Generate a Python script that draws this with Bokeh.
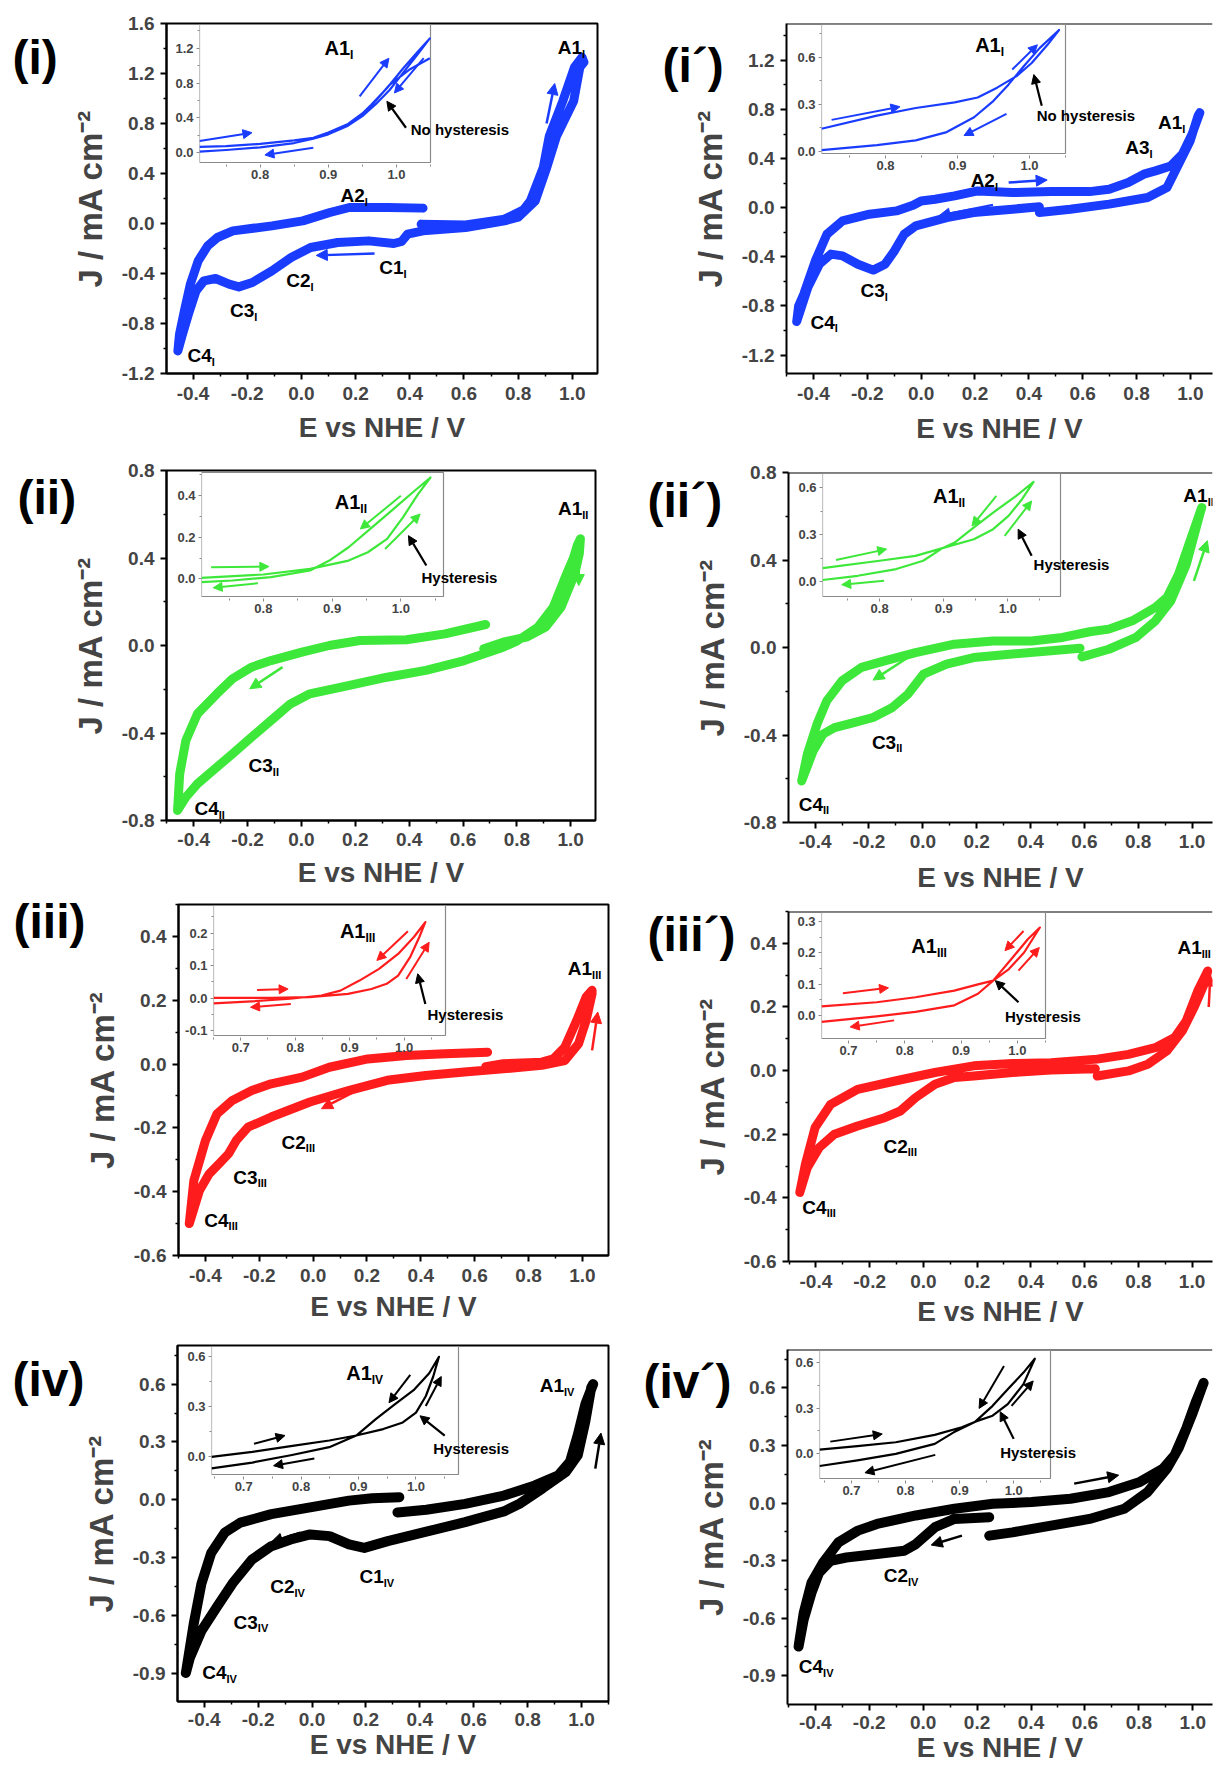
from bokeh.plotting import figure
from bokeh.models import (Range1d, FixedTicker, PrintfTickFormatter, Arrow,
                          NormalHead, Span, ColumnDataSource)
from bokeh.core.properties import value
from bokeh.embed import file_html
from bokeh.resources import INLINE

NAN = float("nan")

# ------------------------------------------------------------------ data
# main cyclic voltammograms: E (V vs NHE), J (mA cm-2)
cv_i_E = [0.442, 0.606, 0.75, 0.82, 0.845, 0.893, 0.915, 0.965, 1.008, 1.036, 1.043, 1.028, 1.005, 0.942, 0.906,
          0.863, 0.8, 0.75, 0.606, 0.449, 0.392, 0.37, 0.341, 0.248, 0.134, 0.034, -0.038, -0.109, -0.181, -0.231,
          -0.267, -0.317, -0.36, -0.389, -0.417, -0.439, -0.456, -0.45, -0.432, -0.41, -0.381, -0.346, -0.31,
          -0.253, -0.109, 0.005, 0.105, 0.177, 0.32, 0.449]
cv_i_J = [-0.005, -0.011, 0.035, 0.11, 0.18, 0.45, 0.7, 0.98, 1.25, 1.33, 1.29, 1.25, 0.98, 0.7, 0.45, 0.18, 0.05,
          0.021, -0.032, -0.059, -0.085, -0.144, -0.16, -0.139, -0.152, -0.192, -0.272, -0.379, -0.472, -0.507,
          -0.485, -0.44, -0.459, -0.539, -0.725, -0.885, -1.019, -0.885, -0.699, -0.485, -0.299, -0.179, -0.112,
          -0.059, -0.019, 0.021, 0.088, 0.128, 0.128, 0.123]

cv_ip_E = [0.439, 0.339, 0.195, 0.095, -0.02, -0.063, -0.099, -0.134, -0.178, -0.235, -0.292, -0.335, -0.378, -0.421,
           -0.462, -0.455, -0.436, -0.393, -0.35, -0.292, -0.192, -0.092, -0.03, 0.0, 0.052, 0.124, 0.21, 0.339,
           0.482, 0.626, 0.698, 0.769, 0.827, 0.87, 0.927, 0.97, 1.006, 1.035, 1.028, 0.999, 0.956, 0.913, 0.841,
           0.698, 0.554, 0.439]
cv_ip_J = [0.007, -0.012, -0.039, -0.08, -0.148, -0.216, -0.351, -0.46, -0.508, -0.46, -0.392, -0.378, -0.46, -0.65,
           -0.926, -0.8, -0.704, -0.433, -0.216, -0.107, -0.053, -0.026, 0.02, 0.055, 0.069, 0.096, 0.137, 0.123,
           0.131, 0.131, 0.15, 0.205, 0.273, 0.3, 0.34, 0.435, 0.598, 0.774, 0.747, 0.544, 0.354, 0.164, 0.083,
           0.029, -0.012, -0.039]

cv_ii_E = [0.677, 0.749, 0.835, 0.907, 0.964, 1.015, 1.032, 1.036, 1.025, 1.01, 0.985, 0.935, 0.878, 0.8, 0.749,
           0.605, 0.462, 0.318, 0.174, 0.031, -0.041, -0.113, -0.185, -0.256, -0.328, -0.386, -0.429, -0.46, -0.452,
           -0.429, -0.386, -0.314, -0.256, -0.185, -0.113, 0.002, 0.103, 0.217, 0.39, 0.533, 0.684]
cv_ii_J = [-0.015, 0.015, 0.038, 0.084, 0.175, 0.328, 0.42, 0.488, 0.46, 0.4, 0.328, 0.175, 0.084, 0.02, -0.008,
           -0.069, -0.114, -0.145, -0.183, -0.221, -0.267, -0.343, -0.419, -0.495, -0.571, -0.632, -0.693, -0.754,
           -0.587, -0.434, -0.312, -0.221, -0.152, -0.099, -0.069, -0.03, 0.0, 0.023, 0.026, 0.053, 0.096]

cv_iip_E = [0.584, 0.476, 0.332, 0.189, 0.088, 0.002, -0.055, -0.113, -0.185, -0.256, -0.328, -0.371, -0.407, -0.45,
            -0.429, -0.393, -0.357, -0.3, -0.228, -0.142, -0.027, 0.117, 0.261, 0.404, 0.519, 0.62, 0.691, 0.778,
            0.864, 0.907, 0.95, 0.993, 1.036, 1.029, 0.979, 0.921, 0.864, 0.792, 0.691, 0.591]
cv_iip_J = [-0.003, -0.015, -0.03, -0.046, -0.076, -0.122, -0.213, -0.274, -0.32, -0.343, -0.366, -0.396, -0.472,
            -0.61, -0.488, -0.35, -0.244, -0.152, -0.091, -0.061, -0.023, 0.015, 0.03, 0.03, 0.046, 0.072, 0.084,
            0.122, 0.183, 0.229, 0.335, 0.488, 0.64, 0.61, 0.381, 0.213, 0.122, 0.046, -0.008, -0.043]

cv_iii_E = [0.641, 0.706, 0.849, 0.892, 0.935, 0.979, 1.014, 1.036, 1.036, 1.014, 0.986, 0.935, 0.849, 0.706, 0.562,
            0.418, 0.275, 0.131, -0.012, -0.156, -0.242, -0.285, -0.314, -0.343, -0.386, -0.422, -0.46, -0.443, -0.4,
            -0.357, -0.3, -0.228, -0.156, -0.041, 0.06, 0.203, 0.347, 0.49, 0.648]
cv_iii_J = [-0.008, 0.001, 0.006, 0.016, 0.053, 0.137, 0.21, 0.231, 0.22, 0.137, 0.064, 0.011, -0.004, -0.015, -0.025,
            -0.036, -0.051, -0.083, -0.119, -0.166, -0.198, -0.239, -0.281, -0.307, -0.344, -0.396, -0.5, -0.365,
            -0.24, -0.156, -0.114, -0.083, -0.062, -0.041, -0.01, 0.016, 0.027, 0.032, 0.037]

cv_iiip_E = [0.647, 0.763, 0.835, 0.906, 0.964, 1.007, 1.05, 1.058, 1.021, 0.978, 0.935, 0.863, 0.763, 0.647, 0.475,
             0.331, 0.187, 0.043, -0.101, -0.245, -0.345, -0.403, -0.439, -0.46, -0.432, -0.388, -0.331, -0.245,
             -0.144, -0.086, -0.029, 0.043, 0.115, 0.187, 0.331, 0.475, 0.64]
cv_iiip_J = [-0.017, -0.001, 0.02, 0.062, 0.125, 0.198, 0.282, 0.313, 0.25, 0.156, 0.104, 0.072, 0.051, 0.036, 0.025,
             0.022, 0.015, -0.006, -0.032, -0.059, -0.106, -0.179, -0.294, -0.383, -0.305, -0.242, -0.2, -0.174,
             -0.148, -0.127, -0.085, -0.043, -0.022, -0.017, -0.006, 0.002, 0.006]

cv_iv_E = [0.317, 0.424, 0.568, 0.712, 0.827, 0.914, 0.957, 0.986, 1.014, 1.043, 1.036, 1.014, 0.986, 0.942, 0.856,
           0.77, 0.712, 0.568, 0.424, 0.281, 0.194, 0.137, 0.065, -0.007, -0.079, -0.151, -0.223, -0.295, -0.353,
           -0.41, -0.453, -0.468, -0.439, -0.41, -0.374, -0.324, -0.266, -0.151, -0.007, 0.137, 0.223, 0.324]
cv_iv_J = [-0.065, -0.051, -0.021, 0.022, 0.075, 0.127, 0.197, 0.337, 0.495, 0.6, 0.583, 0.407, 0.232, 0.145, 0.06,
           -0.02, -0.06, -0.115, -0.165, -0.214, -0.249, -0.231, -0.188, -0.179, -0.205, -0.24, -0.31, -0.433,
           -0.555, -0.678, -0.818, -0.897, -0.643, -0.433, -0.275, -0.17, -0.118, -0.074, -0.039, -0.004, 0.008,
           0.014]

cv_ivp_E = [0.245, 0.116, 0.044, -0.027, -0.07, -0.171, -0.285, -0.343, -0.386, -0.414, -0.443, -0.462, -0.443,
            -0.414, -0.371, -0.314, -0.242, -0.171, -0.027, 0.116, 0.259, 0.402, 0.546, 0.689, 0.804, 0.89, 0.933,
            0.976, 1.012, 1.04, 1.033, 0.997, 0.947, 0.904, 0.832, 0.746, 0.617, 0.474, 0.331, 0.245]
cv_ivp_J = [-0.074, -0.083, -0.126, -0.214, -0.249, -0.266, -0.284, -0.301, -0.363, -0.468, -0.608, -0.748, -0.573,
            -0.415, -0.31, -0.205, -0.144, -0.109, -0.065, -0.03, -0.004, 0.005, 0.022, 0.057, 0.11, 0.18, 0.25,
            0.39, 0.53, 0.626, 0.6, 0.46, 0.285, 0.18, 0.057, -0.03, -0.083, -0.118, -0.153, -0.17]

# insets (A1 region)
ins_i_E = [0.711, 0.75, 0.8, 0.85, 0.878, 0.9, 0.929, 0.95, 0.963, 0.986, 1.01, 1.03, 1.049, 1.03, 1.01, 0.99, 0.97,
           0.95, 0.929, 0.9, 0.878, 0.85, 0.8, 0.75, 0.711, NAN, 0.95, 0.97, 0.99, 1.02, 1.049]
ins_i_J = [0.065, 0.075, 0.1, 0.14, 0.17, 0.23, 0.33, 0.45, 0.55, 0.74, 0.97, 1.15, 1.314, 1.12, 0.92, 0.72, 0.56,
           0.42, 0.31, 0.21, 0.16, 0.11, 0.06, 0.03, 0.011, NAN, 0.44, 0.6, 0.78, 0.96, 1.086]
ins_ip_E = [0.711, 0.788, 0.842, 0.896, 0.928, 0.955, 0.982, 1.003, 1.025, 1.041, 1.014, 0.992, 0.971, 0.95, 0.923,
            0.885, 0.842, 0.788, 0.711]
ins_ip_J = [0.143, 0.227, 0.276, 0.312, 0.343, 0.406, 0.48, 0.564, 0.68, 0.775, 0.659, 0.543, 0.427, 0.322, 0.217,
            0.122, 0.069, 0.038, 0.006]
ins_ii_E = [0.71, 0.8, 0.868, 0.924, 0.952, 0.98, 1.003, 1.025, 1.043, 1.02, 0.992, 0.958, 0.924, 0.896, 0.868, 0.811,
            0.755, 0.71]
ins_ii_J = [0.005, 0.021, 0.048, 0.088, 0.128, 0.192, 0.296, 0.408, 0.488, 0.424, 0.344, 0.248, 0.152, 0.088, 0.04,
            0.008, -0.008, -0.016]
ins_iip_E = [0.711, 0.8, 0.856, 0.898, 0.947, 0.977, 1.001, 1.022, 1.04, 1.013, 0.977, 0.947, 0.917, 0.898, 0.868,
             0.826, 0.766, 0.711]
ins_iip_J = [0.087, 0.134, 0.165, 0.214, 0.271, 0.335, 0.42, 0.526, 0.636, 0.547, 0.441, 0.346, 0.25, 0.214, 0.134,
             0.081, 0.038, 0.011]
ins_iii_E = [0.65, 0.755, 0.826, 0.897, 0.94, 0.968, 0.989, 1.011, 1.028, 1.039, 1.018, 0.989, 0.954, 0.918, 0.883,
             0.848, 0.791, 0.72, 0.65]
ins_iii_J = [0.001, 0.001, 0.003, 0.013, 0.028, 0.044, 0.069, 0.126, 0.188, 0.234, 0.188, 0.136, 0.09, 0.054, 0.023,
             0.008, -0.002, -0.01, -0.016]
ins_iiip_E = [0.652, 0.75, 0.819, 0.888, 0.93, 0.957, 0.985, 1.012, 1.04, 1.019, 0.992, 0.957, 0.93, 0.888, 0.819,
              0.75, 0.652]
ins_iiip_J = [0.029, 0.042, 0.058, 0.079, 0.099, 0.111, 0.148, 0.201, 0.281, 0.244, 0.186, 0.111, 0.069, 0.032,
              0.011, -0.003, -0.021]
ins_iv_E = [0.644, 0.715, 0.782, 0.849, 0.896, 0.943, 0.977, 1.0, 1.017, 1.03, 1.04, 1.023, 0.997, 0.963, 0.93, 0.896,
            0.849, 0.782, 0.715, 0.644]
ins_iv_J = [-0.004, 0.026, 0.061, 0.095, 0.125, 0.164, 0.204, 0.263, 0.362, 0.481, 0.6, 0.501, 0.402, 0.313, 0.224,
            0.125, 0.055, 0.006, -0.038, -0.073]
ins_ivp_E = [0.641, 0.711, 0.782, 0.854, 0.904, 0.929, 0.961, 0.989, 1.018, 1.039, 1.018, 0.989, 0.961, 0.929, 0.889,
             0.854, 0.782, 0.711, 0.641]
ins_ivp_J = [0.028, 0.05, 0.076, 0.124, 0.174, 0.211, 0.25, 0.326, 0.457, 0.624, 0.533, 0.424, 0.315, 0.211, 0.141,
             0.065, 0.0, -0.043, -0.08]

# tick labels
X_TICKS = [-0.4, -0.2, 0.0, 0.2, 0.4, 0.6, 0.8, 1.0]
X_MINOR = [-0.5, -0.3, -0.1, 0.1, 0.3, 0.5, 0.7, 0.9, 1.1]
Y_TICKS_I = [-1.2, -0.8, -0.4, 0.0, 0.4, 0.8, 1.2, 1.6]
Y_TICKS_IP = [-1.2, -0.8, -0.4, 0.0, 0.4, 0.8, 1.2]
Y_MINOR_I = [-1.0, -0.6, -0.2, 0.2, 0.6, 1.0, 1.4]
Y_TICKS_II = [-0.8, -0.4, 0.0, 0.4, 0.8]
Y_MINOR_II = [-0.6, -0.2, 0.2, 0.6]
Y_TICKS_III = [-0.6, -0.4, -0.2, 0.0, 0.2, 0.4]
Y_MINOR_III = [-0.5, -0.3, -0.1, 0.1, 0.3, 0.5]
Y_TICKS_IV = [-0.9, -0.6, -0.3, 0.0, 0.3, 0.6]
Y_MINOR_IV = [-0.75, -0.45, -0.15, 0.15, 0.45, 0.75]

INS_X_TICKS_A = [0.8, 0.9, 1.0]
INS_X_TICKS_B = [0.7, 0.8, 0.9, 1.0]
INS_X_MINOR = [0.65, 0.75, 0.85, 0.95, 1.05]
INS_Y_TICKS_I = [0.0, 0.4, 0.8, 1.2]
INS_Y_MINOR_I = [0.2, 0.6, 1.0, 1.4]
INS_Y_TICKS_03 = [0.0, 0.3, 0.6]
INS_Y_MINOR_03 = [0.15, 0.45, 0.75]
INS_Y_TICKS_II = [0.0, 0.2, 0.4]
INS_Y_MINOR_II = [0.1, 0.3, 0.5]
INS_Y_TICKS_III = [-0.1, 0.0, 0.1, 0.2]
INS_Y_MINOR_III = [-0.05, 0.05, 0.15, 0.25]
INS_Y_TICKS_IIIP = [0.0, 0.1, 0.2, 0.3]
INS_Y_MINOR_IIIP = [0.05, 0.15, 0.25]

# ------------------------------------------------------------------ styles / layout
BLUE = "#1a3cff"
GREEN = "#3ee83a"
RED = "#ff1c1c"
BLACK = "#000000"
FONT = "Liberation Sans"
W_PAGE, H_PAGE = 1213, 1765
GREY = "#8a8a8a"

PANELS = [
    dict(tag="(i)", col=0, color=BLUE, lw=9, E=cv_i_E, J=cv_i_J, frame=(166, 23, 597, 373), xr=(-0.498, 1.093),
         yr=(-1.2, 1.6), yt=Y_TICKS_I, ym=Y_MINOR_I, tag_xy=(12, 57), xls=7, xgap=9,
         labels=[("A1", "I", 1.036, 1.408), ("A2", "I", 0.234, 0.221), ("C1", "I", 0.377, -0.352),
                 ("C2", "I", 0.034, -0.459), ("C3", "I", -0.174, -0.699), ("C4", "I", -0.331, -1.059)],
         arrows=[(0.905, 0.80, 0.935, 1.12), (0.27, -0.24, 0.055, -0.255)],
         inset=dict(E=ins_i_E, J=ins_i_J, frame=(199, 24, 430, 162), xr=(0.711, 1.05), yr=(-0.114, 1.474),
                    xt=INS_X_TICKS_A, yt=INS_Y_TICKS_I, ym=INS_Y_MINOR_I, rpad=84,
                    labels=[("A1", "I", 0.932, 1.2)],
                    arrows=[(0.711, 0.133, 0.788, 0.229), (0.878, 0.057, 0.807, -0.027),
                            (0.946, 0.648, 0.989, 1.086), (1.04, 1.086, 0.997, 0.686)],
                    pointer=(1.014, 0.286, 0.986, 0.59), note="No hysteresis", note_xy=(1.021, 0.267))),
    dict(tag="(i\u00b4)", col=1, color=BLUE, lw=9, E=cv_ip_E, J=cv_ip_J, frame=(786, 23, 1212, 373),
         xr=(-0.5, 1.082), yr=(-1.35, 1.5), yt=Y_TICKS_IP, ym=Y_MINOR_I, tag_xy=(662, 65), xls=7, xgap=10,
         labels=[("A1", "I", 0.97, 0.693), ("A2", "I", 0.274, 0.218), ("A3", "I", 0.848, 0.49),
                 ("C3", "I", -0.135, -0.677), ("C4", "I", -0.321, -0.934)],
         arrows=[(0.325, 0.205, 0.468, 0.226), (0.267, 0.023, 0.066, -0.066)],
         inset=dict(E=ins_ip_E, J=ins_ip_J, frame=(821, 24, 1065, 153), xr=(0.711, 1.05), yr=(-0.015, 0.81),
                    xt=INS_X_TICKS_A, yt=INS_Y_TICKS_03, ym=INS_Y_MINOR_03, rpad=74,
                    labels=[("A1", "I", 0.96, 0.68)],
                    arrows=[(0.725, 0.2, 0.82, 0.284), (0.976, 0.522, 1.011, 0.68), (0.968, 0.238, 0.909, 0.1)],
                    pointer=(1.017, 0.29, 1.006, 0.49), note="No hysteresis", note_xy=(1.01, 0.227))),
    dict(tag="(ii)", col=0, color=GREEN, lw=9, E=cv_ii_E, J=cv_ii_J, frame=(166, 470, 595, 820),
         xr=(-0.501, 1.092), yr=(-0.8, 0.8), yt=Y_TICKS_II, ym=Y_MINOR_II, tag_xy=(17, 497), xls=6, xgap=8,
         labels=[("A1", "II", 1.043, 0.625), ("C3", "II", -0.106, -0.549), ("C4", "II", -0.307, -0.747)],
         arrows=[(-0.07, -0.099, -0.192, -0.198), (1.03, 0.343, 1.03, 0.274)],
         inset=dict(E=ins_ii_E, J=ins_ii_J, frame=(201, 472, 443, 596), xr=(0.71, 1.062), yr=(-0.085, 0.512),
                    xt=INS_X_TICKS_A, yt=INS_Y_TICKS_II, ym=INS_Y_MINOR_II, rpad=58,
                    labels=[("A1", "II", 0.941, 0.368)],
                    arrows=[(0.724, 0.056, 0.808, 0.059), (0.792, -0.021, 0.727, -0.043),
                            (1.0, 0.4, 0.941, 0.24), (0.977, 0.144, 1.028, 0.312)],
                    pointer=(1.037, 0.064, 1.011, 0.208), note="Hysteresis", note_xy=(1.03, 0.008))),
    dict(tag="(ii\u00b4)", col=1, color=GREEN, lw=9, E=cv_iip_E, J=cv_iip_J, frame=(788, 472, 1212, 822),
         xr=(-0.499, 1.076), yr=(-0.8, 0.8), yt=Y_TICKS_II, ym=Y_MINOR_II, tag_xy=(647, 500), xls=6, xgap=11,
         labels=[("A1", "II", 1.058, 0.693), ("C3", "II", -0.099, -0.434), ("C4", "II", -0.371, -0.716)],
         arrows=[(-0.055, -0.046, -0.185, -0.149), (1.007, 0.305, 1.057, 0.488)],
         inset=dict(E=ins_iip_E, J=ins_iip_J, frame=(822, 473, 1060, 596), xr=(0.711, 1.082), yr=(-0.094, 0.69),
                    xt=INS_X_TICKS_A, yt=INS_Y_TICKS_03, ym=INS_Y_MINOR_03, rpad=52,
                    labels=[("A1", "II", 0.923, 0.547)],
                    arrows=[(0.732, 0.138, 0.811, 0.208), (0.807, 0.006, 0.741, -0.019),
                            (0.982, 0.547, 0.944, 0.356), (0.995, 0.293, 1.037, 0.515)],
                    pointer=(1.037, 0.165, 1.016, 0.335), note="Hysteresis", note_xy=(1.04, 0.112))),
    dict(tag="(iii)", col=0, color=RED, lw=9, E=cv_iii_E, J=cv_iii_J, frame=(178, 904, 608, 1255),
         xr=(-0.5, 1.097), yr=(-0.6, 0.5), yt=Y_TICKS_III, ym=Y_MINOR_III, tag_xy=(13, 921), xls=7, xgap=6,
         labels=[("A1", "III", 1.036, 0.299), ("C2", "III", -0.027, -0.245), ("C3", "III", -0.206, -0.354),
                 ("C4", "III", -0.314, -0.49)],
         arrows=[(0.174, -0.078, 0.031, -0.14), (1.036, 0.043, 1.057, 0.163)],
         inset=dict(E=ins_iii_E, J=ins_iii_J, frame=(213, 905, 445, 1035), xr=(0.65, 1.076), yr=(-0.115, 0.285),
                    xt=INS_X_TICKS_B, yt=INS_Y_TICKS_III, ym=INS_Y_MINOR_III, rpad=62,
                    labels=[("A1", "III", 0.929, 0.208)],
                    arrows=[(0.73, 0.025, 0.787, 0.028), (0.792, -0.018, 0.718, -0.028),
                            (1.007, 0.206, 0.95, 0.116), (1.004, 0.059, 1.046, 0.172)],
                    pointer=(1.039, -0.018, 1.025, 0.075), note="Hysteresis", note_xy=(1.043, -0.049))),
    dict(tag="(iii\u00b4)", col=1, color=RED, lw=9, E=cv_iiip_E, J=cv_iiip_J, frame=(788, 911, 1212, 1261),
         xr=(-0.502, 1.076), yr=(-0.6, 0.5), yt=Y_TICKS_III, ym=Y_MINOR_III, tag_xy=(647, 934), xls=7, xgap=5,
         labels=[("A1", "III", 1.036, 0.386), ("C2", "III", -0.058, -0.237), ("C4", "III", -0.36, -0.43)],
         arrows=[(1.062, 0.2, 1.068, 0.3)],
         inset=dict(E=ins_iiip_E, J=ins_iiip_J, frame=(821, 912, 1045, 1038), xr=(0.652, 1.05),
                    yr=(-0.074, 0.329), xt=INS_X_TICKS_B, yt=INS_Y_TICKS_IIIP, ym=INS_Y_MINOR_IIIP, rpad=38,
                    labels=[("A1", "III", 0.857, 0.223)],
                    arrows=[(0.69, 0.071, 0.771, 0.088), (0.781, -0.016, 0.703, -0.037),
                            (1.011, 0.27, 0.978, 0.207), (1.002, 0.143, 1.039, 0.217)],
                    pointer=(1.002, 0.042, 0.961, 0.111), note="Hysteresis", note_xy=(0.978, -0.003))),
    dict(tag="(iv)", col=0, color=BLACK, lw=10, E=cv_iv_E, J=cv_iv_J, frame=(177, 1345, 608, 1701),
         xr=(-0.499, 1.1), yr=(-1.045, 0.8), yt=Y_TICKS_IV, ym=Y_MINOR_IV, tag_xy=(12, 1379), xls=5, xgap=0,
         labels=[("A1", "IV", 0.935, 0.591), ("C1", "IV", 0.266, -0.398), ("C2", "IV", -0.065, -0.45),
                 ("C3", "IV", -0.201, -0.634), ("C4", "IV", -0.317, -0.897)],
         arrows=[(-0.043, -0.17, -0.151, -0.219), (1.051, 0.162, 1.072, 0.346)],
         inset=dict(E=ins_iv_E, J=ins_iv_J, frame=(211, 1346, 458, 1474), xr=(0.644, 1.074), yr=(-0.11, 0.662),
                    xt=INS_X_TICKS_B, yt=INS_Y_TICKS_03, ym=INS_Y_MINOR_03, rpad=54,
                    labels=[("A1", "IV", 0.923, 0.5)],
                    arrows=[(0.718, 0.075, 0.772, 0.125), (0.823, -0.014, 0.752, -0.057),
                            (0.99, 0.491, 0.953, 0.323), (1.017, 0.303, 1.044, 0.481)],
                    pointer=(1.05, 0.125, 1.007, 0.244), note="Hysteresis", note_xy=(1.03, 0.046))),
    dict(tag="(iv\u00b4)", col=1, color=BLACK, lw=10, E=cv_ivp_E, J=cv_ivp_J, frame=(787, 1349, 1212, 1705),
         xr=(-0.503, 1.073), yr=(-1.05, 0.8), yt=Y_TICKS_IV, ym=Y_MINOR_IV, tag_xy=(643, 1381), xls=5, xgap=0,
         labels=[("C2", "IV", -0.056, -0.38), ("C4", "IV", -0.371, -0.853)],
         arrows=[(0.56, 0.101, 0.725, 0.145), (0.144, -0.17, 0.03, -0.219)],
         inset=dict(E=ins_ivp_E, J=ins_ivp_J, frame=(819, 1350, 1050, 1478), xr=(0.641, 1.068), yr=(-0.162, 0.678),
                    xt=INS_X_TICKS_B, yt=INS_Y_TICKS_03, ym=INS_Y_MINOR_03, rpad=32,
                    labels=[],
                    arrows=[(0.661, 0.08, 0.757, 0.13), (0.855, -0.007, 0.725, -0.124),
                            (0.982, 0.576, 0.936, 0.298), (0.996, 0.315, 1.036, 0.478)],
                    pointer=(1.0, 0.098, 0.975, 0.276), note="Hysteresis", note_xy=(0.975, 0.011))),
]


def abs_style(left, top, z=None):
    s = {"position": "absolute", "left": f"{left}px", "top": f"{top}px"}
    if z is not None:
        s["z-index"] = str(z)
    return s


def add_labels(p, labels, big, small):
    if not labels:
        return
    src = ColumnDataSource(dict(x=[l[2] for l in labels], y=[l[3] for l in labels],
                                main=[l[0] for l in labels], sub=[l[1] for l in labels]))
    p.text(x="x", y="y", text="main", source=src, text_font=value(FONT), text_font_style="bold",
           text_font_size=big, text_align="right", text_baseline="alphabetic", text_color="black")
    p.text(x="x", y="y", text="sub", source=src, text_font=value(FONT), text_font_style="bold",
           text_font_size=small, text_align="left", text_baseline="top", text_color="black")


def add_arrow(p, a, color, width, size):
    p.add_layout(Arrow(x_start=a[0], y_start=a[1], x_end=a[2], y_end=a[3], line_color=color, line_width=width,
                       end=NormalHead(size=size, fill_color=color, line_color=color, line_width=1)))


def make_main(sp):
    L, T, R, B = sp["frame"]
    fx = 0 if sp["col"] == 0 else 606
    top_pad = 12
    fy = T - top_pad
    rpad = 3 if sp["col"] == 0 else W_PAGE - R
    bpad = min(76, H_PAGE - B)
    W = R + rpad - fx
    H = (B - T) + top_pad + bpad
    p = figure(width=W, height=H, x_range=Range1d(*sp["xr"]), y_range=Range1d(*sp["yr"]),
               output_backend="svg", toolbar_location=None, tools="",
               min_border_left=L - fx, min_border_right=rpad, min_border_top=top_pad, min_border_bottom=bpad,
               styles=abs_style(fx, fy))
    p.border_fill_alpha = 0
    p.background_fill_color = "white"
    p.xgrid.visible = False
    p.ygrid.visible = False
    if sp["col"] == 0:
        p.outline_line_color = "black"
        p.outline_line_width = 2
    else:
        p.outline_line_color = None
        p.add_layout(Span(location=sp["yr"][1], dimension="width", line_color="black", line_width=2))
    for ax in (p.xaxis[0], p.yaxis[0]):
        ax.axis_line_width = 2
        ax.major_tick_line_width = 2
        ax.minor_tick_line_width = 1.5
        ax.major_tick_out = 6
        ax.major_tick_in = 0
        ax.minor_tick_out = 3
        ax.minor_tick_in = 0
        ax.major_label_text_font = FONT
        ax.major_label_text_font_style = "bold"
        ax.major_label_text_font_size = "19px"
        ax.axis_label_text_font = FONT
        ax.axis_label_text_font_style = "bold"
        ax.formatter = PrintfTickFormatter(format="%.1f")
    p.xaxis.ticker = FixedTicker(ticks=X_TICKS, minor_ticks=X_MINOR)
    p.yaxis.ticker = FixedTicker(ticks=sp["yt"], minor_ticks=sp["ym"])
    p.xaxis.major_label_standoff = sp["xls"]
    p.yaxis.major_label_standoff = 6
    p.xaxis.axis_label = "E vs NHE / V"
    p.xaxis.axis_label_text_font_size = "28px"
    p.xaxis.axis_label_standoff = sp["xgap"]
    p.yaxis.axis_label = "J / mA cm\u207b\u00b2"
    p.yaxis.axis_label_text_font_size = "33px"
    p.yaxis.axis_label_standoff = 10

    c = sp["color"]
    p.line(sp["E"], sp["J"], line_color=c, line_width=sp["lw"], line_join="round", line_cap="round")
    add_labels(p, sp["labels"], "19px", "11px")
    for a in sp["arrows"]:
        add_arrow(p, a, c, 2.5, 11)
    return p


def make_inset(ins, color):
    L, T, R, B = ins["frame"]
    x0, x1 = ins["xr"]
    y0, y1 = ins["yr"]
    ext = ins["rpad"]              # extra drawing room to the right for the note
    pad = 2                        # a little room above / below the box
    xs = (x1 - x0) / (R - L)
    ys = (y1 - y0) / (B - T)
    ml, mb = 34, 20
    W = (R - L) + ext + ml
    H = (B - T) + 2 * pad + mb
    p = figure(width=W, height=H, x_range=Range1d(x0, x1 + ext * xs),
               y_range=Range1d(y0 - pad * ys, y1 + pad * ys),
               output_backend="svg", toolbar_location=None, tools="",
               min_border_left=ml, min_border_right=0, min_border_top=0, min_border_bottom=mb,
               styles=abs_style(L - ml, T - pad, 5))
    p.border_fill_alpha = 0
    p.background_fill_alpha = 0
    p.outline_line_color = None
    p.xgrid.visible = False
    p.ygrid.visible = False
    for ax in (p.xaxis[0], p.yaxis[0]):
        ax.axis_line_color = None
        ax.major_tick_line_color = GREY
        ax.minor_tick_line_color = GREY
        ax.major_tick_out = 3
        ax.major_tick_in = 0
        ax.minor_tick_out = 2
        ax.minor_tick_in = 0
        ax.major_label_text_font = FONT
        ax.major_label_text_font_style = "bold"
        ax.major_label_text_font_size = "13px"
        ax.formatter = PrintfTickFormatter(format="%.1f")
    p.xaxis.ticker = FixedTicker(ticks=ins["xt"], minor_ticks=INS_X_MINOR)
    p.yaxis.ticker = FixedTicker(ticks=ins["yt"], minor_ticks=ins["ym"])
    p.xaxis.major_label_standoff = 2
    p.yaxis.major_label_standoff = 3
    # inset box
    p.quad(left=[x0], right=[x1], bottom=[y0], top=[y1], fill_color="white", line_color=GREY, line_width=1.2)

    p.line(ins["E"], ins["J"], line_color=color, line_width=2.2, line_join="round")
    add_labels(p, ins["labels"], "20px", "12px")
    for a in ins["arrows"]:
        add_arrow(p, a, color, 2, 9)
    add_arrow(p, ins["pointer"], "black", 2.2, 9)
    nx, ny = ins["note_xy"]
    p.text(x=[nx], y=[ny], text=[ins["note"]], text_font=value(FONT), text_font_style="bold",
           text_font_size="15px", text_align="left", text_baseline="middle", text_color="black")
    return p


def make_tag(text, px, py):
    p = figure(width=110, height=64, x_range=Range1d(0, 1), y_range=Range1d(0, 1),
               x_axis_type=None, y_axis_type=None, output_backend="svg", toolbar_location=None, tools="",
               min_border=0, styles=abs_style(px, py - 32, 6))
    p.border_fill_alpha = 0
    p.background_fill_alpha = 0
    p.outline_line_color = None
    p.xgrid.visible = False
    p.ygrid.visible = False
    p.text(x=[0], y=[0.5], text=[text], text_font=value(FONT), text_font_style="bold", text_font_size="48px",
           text_align="left", text_baseline="middle", text_color="black")
    return p


mains = [make_main(sp) for sp in PANELS]
insets = [make_inset(sp["inset"], sp["color"]) for sp in PANELS]
tags = [make_tag(sp["tag"], *sp["tag_xy"]) for sp in PANELS]
p = mains + insets + tags

html = file_html(p, INLINE, title="Cyclic voltammograms")
html = html.replace("</head>", "<style>html,body{margin:0;padding:0;overflow:hidden;background:#fff;}</style></head>", 1)
open("out.html", "w").write(html)
